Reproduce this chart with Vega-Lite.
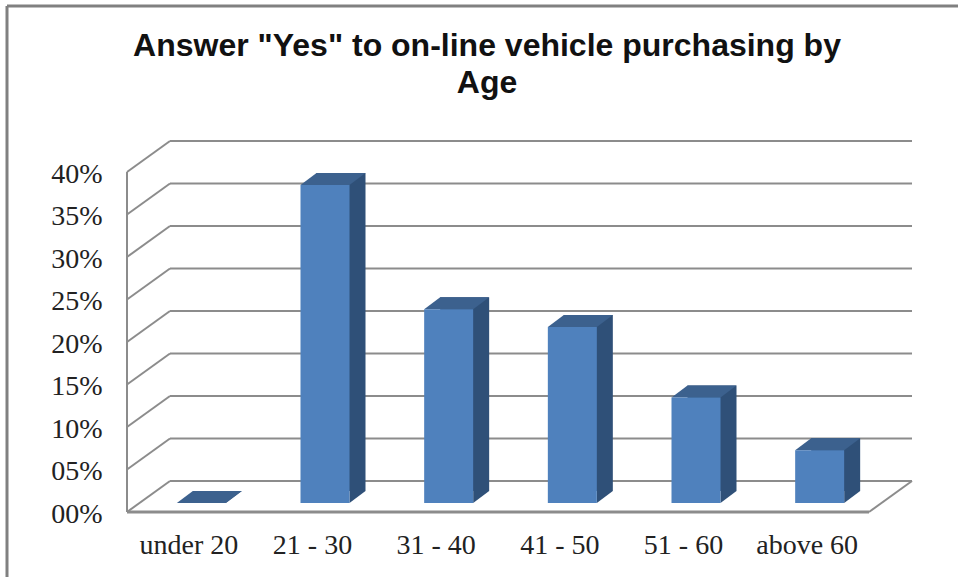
{"$schema":"https://vega.github.io/schema/vega-lite/v6.json","width":742,"height":340,"autosize":"none","padding":{"left":127,"top":172,"right":89,"bottom":65},"background":"white","view":{"stroke":null},
"title":{"text":["Answer \"Yes\" to on-line vehicle purchasing by","Age"],"font":"Liberation Sans","fontWeight":"bold","fontSize":32,"lineHeight":37,"color":"#111111","anchor":"middle","frame":"group","dx":-11,"offset":-95},
"datasets":{"bars":[{"age":"under 20","share":0},{"age":"21 - 30","share":0.374},{"age":"31 - 40","share":0.228},{"age":"41 - 50","share":0.207},{"age":"51 - 60","share":0.124},{"age":"above 60","share":0.062}],
"ticks":[{"level":0},{"level":0.05},{"level":0.1},{"level":0.15},{"level":0.2},{"level":0.25},{"level":0.3},{"level":0.35},{"level":0.4}]},
"resolve":{"scale":{"x":"independent"},"axis":{"x":"independent"}},
"layer":[
{"data":{"name":"ticks"},"mark":{"type":"rule","color":"#8c8c8c","strokeWidth":2,"xOffset":43,"x2Offset":43,"yOffset":-31,"y2Offset":-31},"encoding":{"x":{"datum":0,"type":"quantitative","scale":{"domain":[0,1]},"axis":null},"x2":{"datum":1},"y":{"field":"level","type":"quantitative","scale":{"domain":[0,0.4]},"axis":{"values":[0,0.05,0.1,0.15,0.2,0.25,0.3,0.35,0.4],"format":"03.0%","domain":false,"ticks":false,"grid":false,"labelFont":"Liberation Serif","labelFontSize":28,"labelColor":"#222222","labelPadding":25,"labelOffset":2,"title":null}},"y2":{"field":"level"}}},
{"data":{"values":[{"level":0.4}]},"mark":{"type":"rule","color":"#808080","strokeWidth":3,"xOffset":-120,"x2Offset":89,"yOffset":-166,"y2Offset":-166},"encoding":{"x":{"datum":0,"type":"quantitative","scale":{"domain":[0,1]},"axis":null},"x2":{"datum":1},"y":{"field":"level","type":"quantitative"},"y2":{"field":"level"}}},
{"data":{"values":[{"top":0.4,"base":0}]},"mark":{"type":"rule","color":"#808080","strokeWidth":3,"xOffset":-120,"x2Offset":-120,"yOffset":-166,"y2Offset":65},"encoding":{"x":{"datum":0,"type":"quantitative","scale":{"domain":[0,1]},"axis":null},"x2":{"datum":0},"y":{"field":"top","type":"quantitative"},"y2":{"field":"base"}}},
{"data":{"name":"ticks"},"mark":{"type":"rule","color":"#8c8c8c","strokeWidth":2,"x2Offset":43,"y2Offset":-31},"encoding":{"x":{"datum":0,"type":"quantitative","scale":{"domain":[0,1]},"axis":null},"x2":{"datum":0},"y":{"field":"level","type":"quantitative"},"y2":{"field":"level"}}},
{"data":{"values":[{"level":0}]},"mark":{"type":"rule","color":"#8c8c8c","strokeWidth":2,"x2Offset":43,"y2Offset":-31},"encoding":{"x":{"datum":1,"type":"quantitative","scale":{"domain":[0,1]},"axis":null},"x2":{"datum":1},"y":{"field":"level","type":"quantitative"},"y2":{"field":"level"}}},
{"data":{"values":[{"level":0}]},"mark":{"type":"rule","color":"#8c8c8c","strokeWidth":3},"encoding":{"y":{"field":"level","type":"quantitative"}}},
{"data":{"values":[{"level":0}]},"mark":{"type":"rule","color":"#8c8c8c","strokeWidth":2},"encoding":{"x":{"datum":0,"type":"quantitative","scale":{"domain":[0,1]},"axis":null}}},
{"data":{"name":"bars"},"layer":[
{"mark":{"type":"bar","size":49,"color":"#2f5078","xOffset":28.5,"yOffset":-21,"y2Offset":-21},"encoding":{"y":{"field":"share","type":"quantitative"}}},
{"mark":{"type":"point","filled":true,"opacity":1,"color":"#2f5078","size":4,"shape":"M37,-9 L53,-21 L37,-21 Z"},"encoding":{"y":{"datum":0,"type":"quantitative"}}},
{"mark":{"type":"point","filled":true,"opacity":1,"color":"#3c618e","size":4,"shape":"M-12,-9 L37,-9 L53,-21 L4,-21 Z"},"encoding":{"y":{"field":"share","type":"quantitative"}}},
{"mark":{"type":"bar","size":49,"color":"#4f81bd","xOffset":12.5,"yOffset":-9,"y2Offset":-9},"encoding":{"y":{"field":"share","type":"quantitative"}}}
],"encoding":{"x":{"field":"age","type":"nominal","sort":null,"scale":{"paddingInner":0,"paddingOuter":0},"axis":{"orient":"bottom","domain":false,"ticks":false,"labelAngle":0,"labelFont":"Liberation Serif","labelFontSize":28,"labelColor":"#222222","labelPadding":19,"title":null}}}}
]}
